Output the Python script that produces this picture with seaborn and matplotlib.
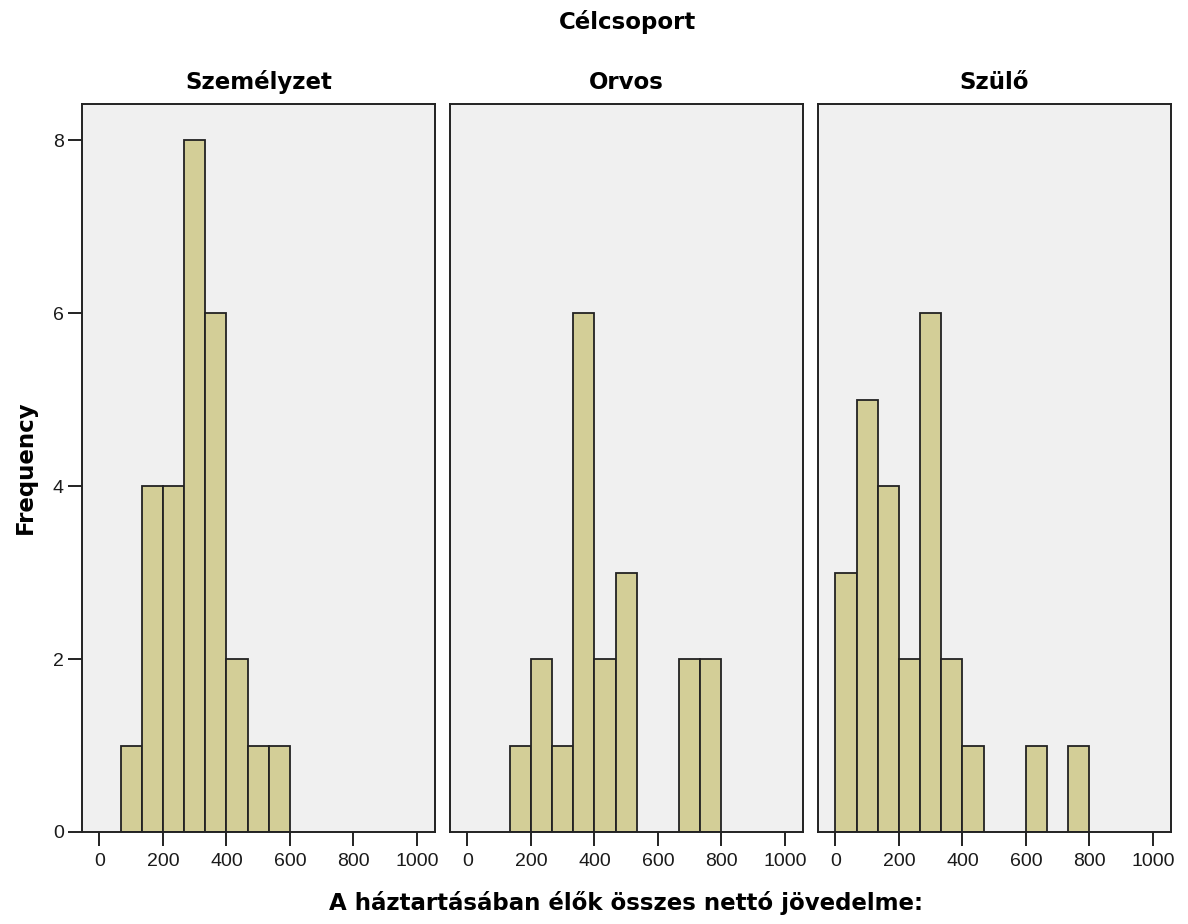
import pandas as pd
import matplotlib
matplotlib.use("Agg")
import matplotlib.pyplot as plt
import seaborn as sns

# 1. 데이터 (히스토그램 막대 중심값과 빈도)
bin_width = 1000 / 15
groups = ["Személyzet", "Orvos", "Szülő"]

szemelyzet_mid = [100.0, 166.7, 233.3, 300.0, 366.7, 433.3, 500.0, 566.7]
szemelyzet_cnt = [1, 4, 4, 8, 6, 2, 1, 1]

orvos_mid = [166.7, 233.3, 300.0, 366.7, 433.3, 500.0, 700.0, 766.7]
orvos_cnt = [1, 2, 1, 6, 2, 3, 2, 2]

szulo_mid = [33.3, 100.0, 166.7, 233.3, 300.0, 366.7, 433.3, 633.3, 766.7]
szulo_cnt = [3, 5, 4, 2, 6, 2, 1, 1, 1]

data = [(szemelyzet_mid, szemelyzet_cnt), (orvos_mid, orvos_cnt), (szulo_mid, szulo_cnt)]

x_ticks = [0, 200, 400, 600, 800, 1000]
y_ticks = [0, 2, 4, 6, 8]

# 2. 스타일
sns.set_style("white")
plt.rcParams["font.family"] = ["DejaVu Sans"]
plt.rcParams["text.color"] = "black"
bar_color = "#D3CE97"
panel_bg = "#F0F0F0"
edge = "#222222"

fig = plt.figure(figsize=(11.88, 9.24), dpi=100)
W, H = 1188, 924
lefts = [82, 450, 818]
pw = 353
top, bottom = 104, 832

axes = []
for i, (grp, (mids, cnts)) in enumerate(zip(groups, data)):
    ax = fig.add_axes([lefts[i] / W, 1 - bottom / H, pw / W, (bottom - top) / H])
    ax.set_facecolor(panel_bg)
    df = pd.DataFrame({"jov": mids, "n": cnts})
    sns.histplot(data=df, x="jov", weights="n", binwidth=bin_width, binrange=(0, 1000),
                 ax=ax, color=bar_color, alpha=1, edgecolor=edge, linewidth=1.3)
    for p in ax.patches:
        if p.get_height() == 0:
            p.set_visible(False)
    ax.set_xlim(-55, 1057)
    ax.set_ylim(0, 8.42)
    ax.set_xticks(x_ticks)
    ax.set_yticks(y_ticks)
    ax.set_xlabel("")
    ax.set_ylabel("")
    for s in ax.spines.values():
        s.set_visible(True)
        s.set_color("#222222")
        s.set_linewidth(1.4)
    ax.tick_params(axis="x", length=10, width=1.4, color="#222222", pad=5,
                   labelsize=14, labelcolor="#1a1a1a", bottom=True)
    ax.tick_params(axis="y", length=10, width=1.4, color="#222222", pad=3,
                   labelsize=14, labelcolor="#1a1a1a", left=(i == 0), labelleft=(i == 0))
    for lab in ax.get_xticklabels() + ax.get_yticklabels():
        lab.set_fontfamily("Liberation Sans")
    ax.set_title(grp, fontsize=16.5, fontweight="bold", pad=11, color="black")
    axes.append(ax)

fig.text(628 / W, 1 - 22 / H, "Célcsoport", ha="center", va="center",
         fontsize=16.5, fontweight="bold")
fig.text(626 / W, 1 - 903 / H, "A háztartásában élők összes nettó jövedelme:",
         ha="center", va="center", fontsize=16.5, fontweight="bold")
fig.text(25 / W, 1 - 467 / H, "Frequency", ha="center", va="center",
         rotation=90, fontsize=16.5, fontweight="bold")

fig.savefig("out.png", dpi=100, facecolor="white")
